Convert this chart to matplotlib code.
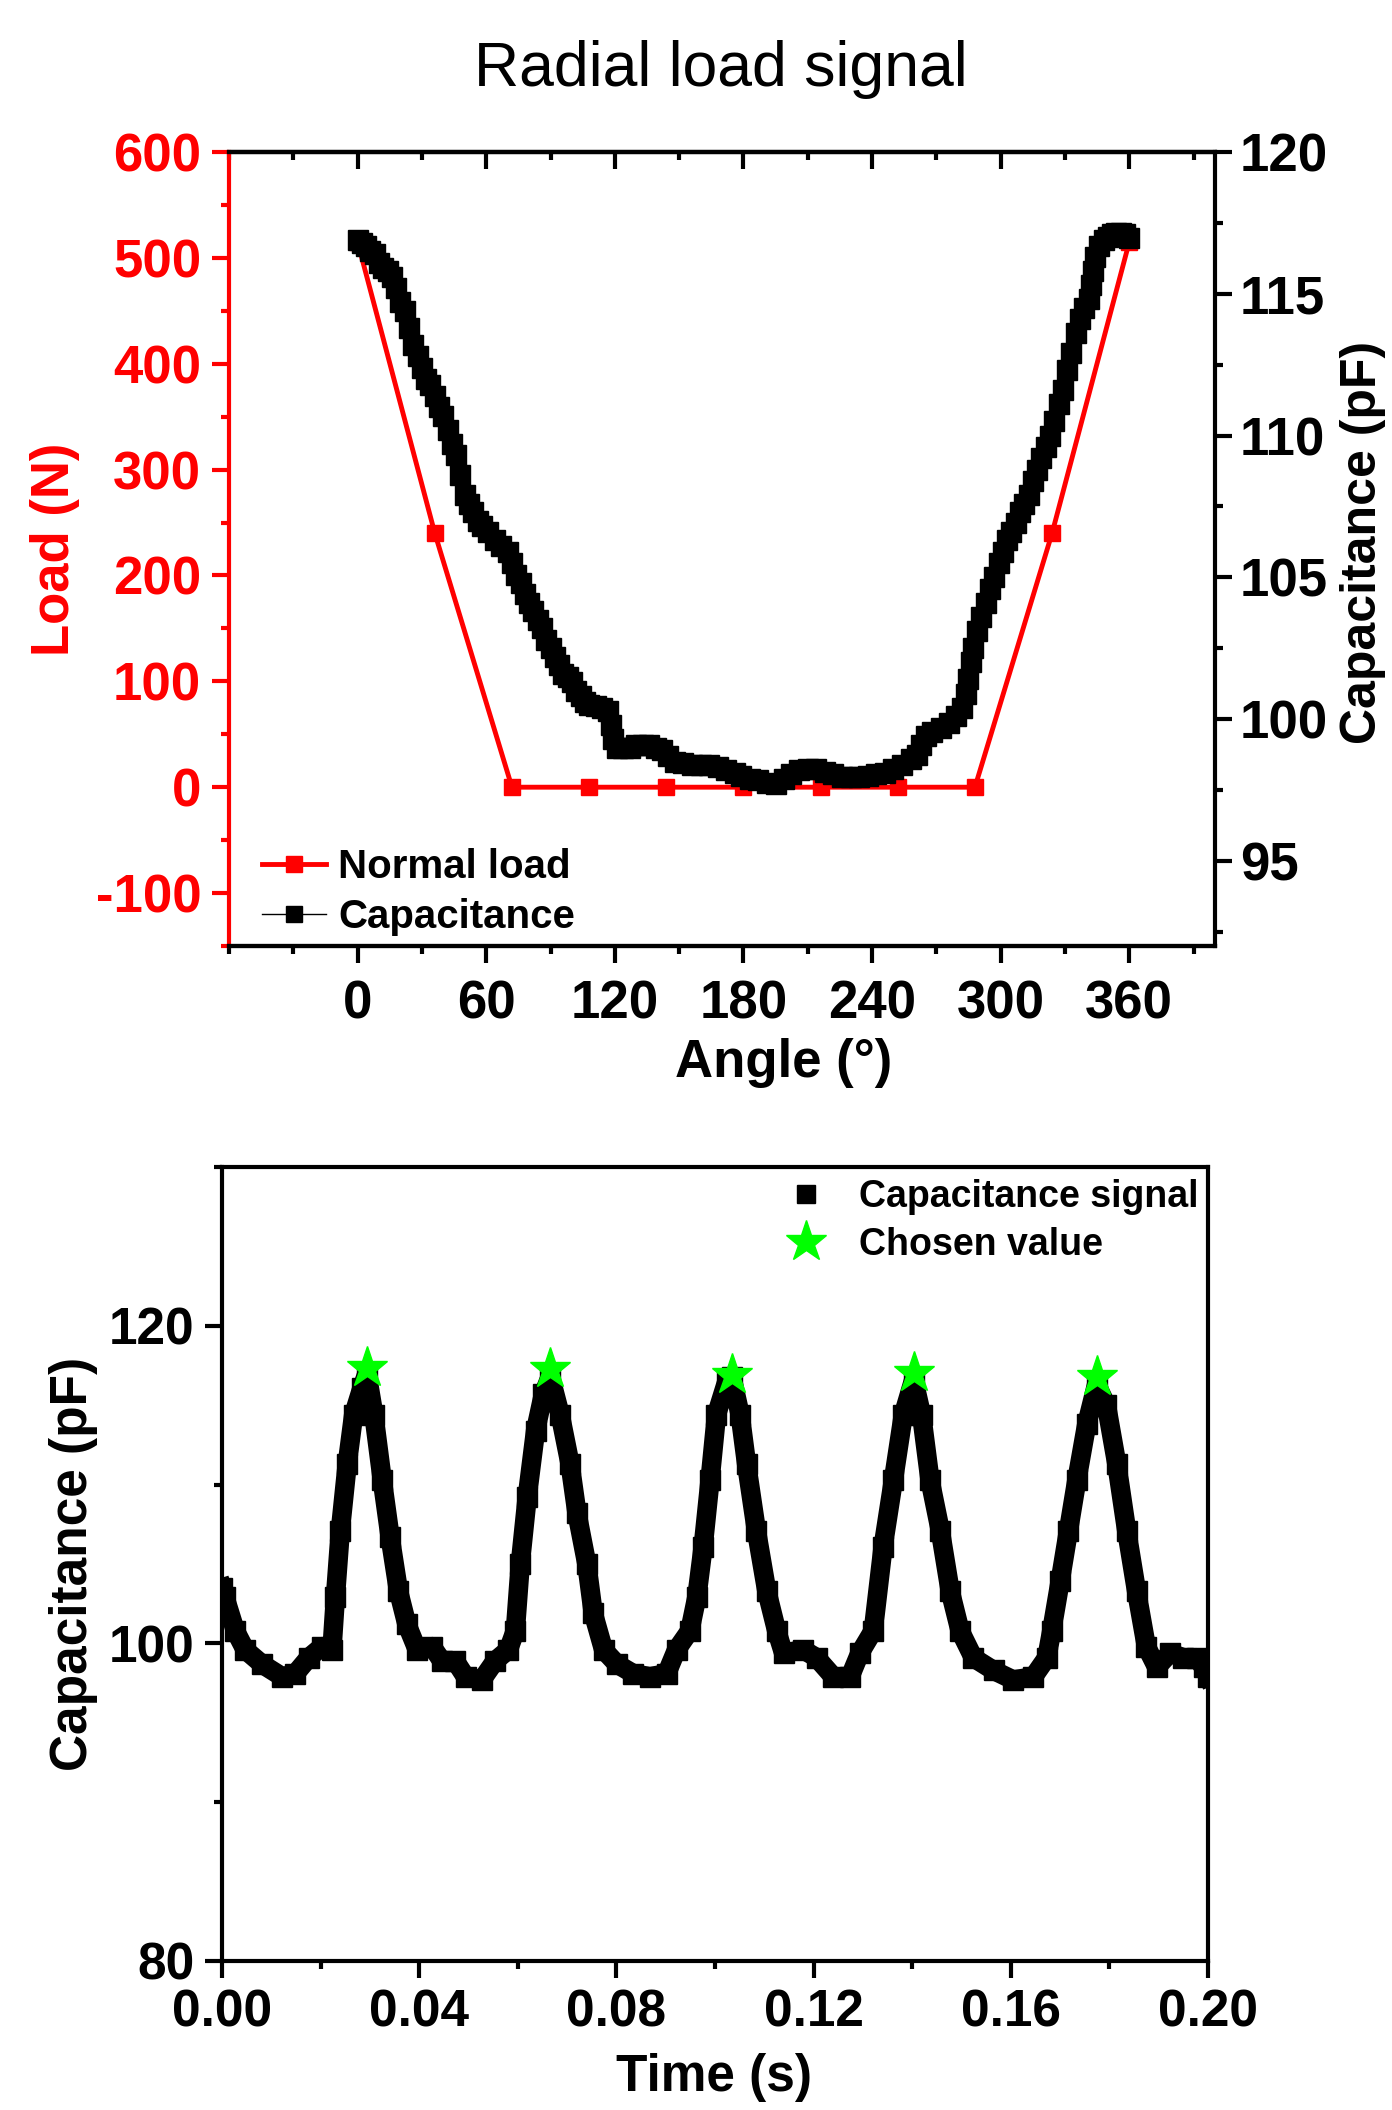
import matplotlib
matplotlib.use("Agg")
import matplotlib.pyplot as plt
from matplotlib.ticker import MultipleLocator

plt.rcParams['font.family'] = ['Liberation Sans', 'DejaVu Sans']
plt.rcParams['font.weight'] = 'bold'
plt.rcParams['axes.linewidth'] = 3
plt.rcParams['axes.unicode_minus'] = False

# top panel: load vs angle
load_angle = [0, 36, 72, 108, 144, 180, 216, 252, 288, 324, 360]
load_n = [515, 240, 0, 0, 0, 0, 0, 0, 0, 240, 515]

# top panel: capacitance vs angle
cap_angle = [0, 2, 4, 6, 8, 10, 12, 14, 16, 18, 20, 22, 24, 26, 28, 30, 32, 34, 36, 38,
             40, 42, 44, 46, 48, 50, 52, 54, 56, 58, 61, 64, 67, 70, 72, 74, 76, 78, 80, 82,
             84, 86, 88, 90, 92, 94, 96, 98, 100, 102, 104, 106, 108, 111, 114, 117, 118, 119, 121, 124,
             127, 130, 133, 136, 139, 142, 145, 148, 152, 156, 160, 164, 168, 172, 176, 179, 183, 187, 191, 195,
             199, 202, 206, 210, 214, 218, 222, 226, 230, 234, 238, 242, 246, 250, 254, 258, 261, 263, 265, 268,
             272, 276, 279, 282, 284, 285, 286, 287, 289, 291, 293, 295, 297, 299, 301, 303, 305, 307, 309, 311,
             313, 315, 317, 319, 321, 323, 325, 327, 329, 331, 333, 335, 337, 339, 341, 342, 343, 344, 346, 348,
             350, 352, 354, 356, 358, 360]
cap_pf = [116.9, 116.8, 116.7, 116.5, 116.4, 116.1, 115.9, 115.8, 115.6, 115.2, 114.7, 114.4, 113.8, 113.2, 112.8, 112.4, 112.0, 111.8, 111.4, 111.0,
          110.7, 110.2, 109.7, 109.3, 108.6, 107.9, 107.6, 107.3, 107.0, 106.8, 106.6, 106.3, 106.1, 105.9, 105.5, 105.1, 104.8, 104.4, 104.1, 103.8,
          103.5, 103.2, 102.8, 102.5, 102.2, 101.9, 101.6, 101.5, 101.3, 101.0, 100.8, 100.6, 100.5, 100.45, 100.4, 100.3, 99.8, 99.3, 99.0, 99.0,
          99.0, 99.1, 99.1, 99.1, 99.0, 98.9, 98.7, 98.5, 98.45, 98.4, 98.4, 98.4, 98.3, 98.2, 98.1, 98.0, 97.9, 97.85, 97.75, 97.7,
          97.9, 98.05, 98.2, 98.25, 98.25, 98.15, 98.05, 97.95, 97.95, 97.95, 98.0, 98.05, 98.1, 98.25, 98.4, 98.6, 98.75, 99.1, 99.4, 99.55,
          99.7, 99.85, 100.1, 100.4, 100.9, 101.4, 102.0, 102.5, 103.1, 103.6, 104.1, 104.6, 105.0, 105.5, 105.9, 106.3, 106.6, 106.9, 107.3, 107.6,
          107.9, 108.4, 108.8, 109.2, 109.6, 110.0, 110.5, 111.1, 111.6, 112.3, 112.9, 113.6, 114.1, 114.5, 114.8, 115.3, 115.8, 116.3, 116.7, 116.9,
          117.0, 117.1, 117.15, 117.15, 117.1, 116.95]

# bottom panel: capacitance signal vs time
sig_t = [0.0000, 0.0006, 0.0027, 0.0047, 0.0081, 0.0122, 0.0149, 0.0176, 0.0203, 0.0223,
         0.0230, 0.0240, 0.0254, 0.0267, 0.0284, 0.0294, 0.0308, 0.0325, 0.0341, 0.0358,
         0.0375, 0.0396, 0.0426, 0.0446, 0.0473, 0.0494, 0.0527, 0.0554, 0.0581, 0.0595,
         0.0605, 0.0619, 0.0636, 0.0652, 0.0666, 0.0686, 0.0706, 0.0720, 0.0740, 0.0753,
         0.0774, 0.0801, 0.0834, 0.0868, 0.0902, 0.0922, 0.0949, 0.0963, 0.0976, 0.0990,
         0.1003, 0.1024, 0.1034, 0.1051, 0.1064, 0.1084, 0.1105, 0.1125, 0.1139, 0.1179,
         0.1206, 0.1240, 0.1274, 0.1294, 0.1321, 0.1341, 0.1362, 0.1382, 0.1403, 0.1419,
         0.1436, 0.1457, 0.1477, 0.1497, 0.1524, 0.1565, 0.1605, 0.1646, 0.1673, 0.1683,
         0.1700, 0.1717, 0.1734, 0.1754, 0.1774, 0.1794, 0.1815, 0.1835, 0.1855, 0.1875,
         0.1896, 0.1923, 0.1950, 0.1977, 0.1991, 0.2000]
sig_pf = [103.5, 102.9, 100.8, 99.6, 98.7, 97.9, 98.1, 99.1, 99.8, 99.6,
          102.9, 107.1, 111.3, 114.4, 116.1, 117.0, 114.4, 110.3, 106.7, 103.3,
          101.2, 99.6, 99.8, 98.9, 98.9, 97.9, 97.7, 98.9, 99.6, 100.8,
          105.0, 109.2, 113.4, 115.7, 116.8, 114.4, 111.3, 108.2, 105.0, 101.9,
          99.6, 98.7, 98.1, 97.9, 98.1, 99.6, 100.8, 102.9, 106.1, 110.3,
          114.4, 116.5, 116.8, 114.4, 111.3, 107.1, 103.3, 100.8, 99.4, 99.6,
          99.1, 97.9, 97.9, 99.4, 100.8, 106.1, 110.3, 114.4, 116.6, 114.4,
          110.3, 107.1, 103.3, 100.8, 99.1, 98.3, 97.7, 97.9, 99.1, 100.8,
          103.9, 107.1, 110.3, 113.8, 116.3, 115.0, 111.3, 107.1, 103.3, 99.8,
          98.5, 99.4, 99.1, 99.1, 98.5, 97.9]

chosen_t = [0.0294, 0.0666, 0.1034, 0.1403, 0.1774]
chosen_pf = [117.35, 117.3, 116.9, 117.05, 116.75]

W, H = 1392, 2110
fig = plt.figure(figsize=(W / 100, H / 100), dpi=100)

# ---------- top panel ----------
ax = fig.add_axes([229 / W, 1 - 946 / H, 986 / W, 794 / H])
ax2 = ax.twinx()

ax.plot(load_angle, load_n, '-s', color='red', lw=3.5, ms=11, label='Normal load')
ax2.plot(cap_angle, cap_pf, '-s', color='black', lw=1.0, ms=15, label='Capacitance')

ax.set_xlim(-60, 400)
ax.set_ylim(-150, 600)
ax2.set_ylim(92, 120)
ax.set_xticks(range(0, 361, 60))
ax.xaxis.set_minor_locator(MultipleLocator(30))
ax.yaxis.set_major_locator(MultipleLocator(100))
ax.yaxis.set_minor_locator(MultipleLocator(50))
ax2.set_yticks([95, 100, 105, 110, 115, 120])
ax2.yaxis.set_minor_locator(MultipleLocator(2.5))

ax.tick_params(axis='x', which='major', direction='out', length=12, width=3, labelsize=38, pad=12)
ax.tick_params(axis='x', which='minor', direction='out', length=6, width=3)
ax.tick_params(axis='y', which='both', colors='red', width=3, labelsize=38, pad=8)
ax.tick_params(axis='y', which='major', length=12)
ax.tick_params(axis='y', which='minor', length=6)
ax2.tick_params(axis='y', which='major', direction='out', length=12, width=3, labelsize=38, pad=6)
ax2.tick_params(axis='y', which='minor', direction='out', length=6, width=3)

top = ax.secondary_xaxis('top')
top.set_xticks(range(0, 361, 60))
top.xaxis.set_minor_locator(MultipleLocator(30))
top.tick_params(axis='x', which='major', direction='in', length=12, width=3, labeltop=False)
top.tick_params(axis='x', which='minor', direction='in', length=6, width=3)
top.spines['top'].set_linewidth(3)

ax.spines['left'].set_color('red')
ax2.spines['left'].set_visible(False)
ax.spines['right'].set_visible(False)

h1, l1 = ax.get_legend_handles_labels()
h2, l2 = ax2.get_legend_handles_labels()
leg = ax2.legend(h1 + h2, l1 + l2, loc='lower left', bbox_to_anchor=(0.033, 0.012),
                 frameon=False, fontsize=29, handlelength=1.6, handletextpad=0.3,
                 labelspacing=0.3, borderpad=0, borderaxespad=0)
leg.legend_handles[1].set_markersize(12)

fig.text(0.518, 0.967, 'Radial load signal', ha='center', va='center',
         fontsize=45, fontweight='normal')
fig.text(55 / W, 1 - 549 / H, 'Load (N)', rotation=90, ha='center', va='center',
         fontsize=38, color='red')
fig.text(1363 / W, 1 - 542 / H, 'Capacitance (pF)', rotation=90, ha='center', va='center',
         fontsize=36)
fig.text(784 / W, 1 - 1063 / H, 'Angle (°)', ha='center', va='center', fontsize=38)

# ---------- bottom panel ----------
bx = fig.add_axes([222 / W, 1 - 1961 / H, 986 / W, 794 / H])
bx.plot(sig_t, sig_pf, '-', color='black', lw=14, solid_joinstyle='round')
bx.plot(sig_t, sig_pf, 's', color='black', ms=15, label='Capacitance signal')
bx.plot(chosen_t, chosen_pf, '*', color='#00ff00', ms=31, label='Chosen value')

bx.set_xlim(0, 0.2)
bx.set_ylim(80, 130)
bx.set_xticks([0.0, 0.04, 0.08, 0.12, 0.16, 0.20])
bx.set_xticklabels(['0.00', '0.04', '0.08', '0.12', '0.16', '0.20'])
bx.xaxis.set_minor_locator(MultipleLocator(0.02))
bx.set_yticks([80, 100, 120])
bx.yaxis.set_minor_locator(MultipleLocator(10))
bx.tick_params(which='major', direction='out', length=12, width=3, labelsize=37, pad=8)
bx.tick_params(which='minor', direction='out', length=6, width=3)

bleg = bx.legend(loc='upper right', bbox_to_anchor=(0.99, 0.985), frameon=False, fontsize=27,
                 handlelength=1.0, handletextpad=0.9, labelspacing=0.32, borderpad=0,
                 borderaxespad=0)
bleg.legend_handles[0].set_markersize(13)

fig.text(74 / W, 1 - 1564 / H, 'Capacitance (pF)', rotation=90, ha='center', va='center',
         fontsize=37)
fig.text(714 / W, 1 - 2078 / H, 'Time (s)', ha='center', va='center', fontsize=37)

fig.savefig('out.png', dpi=100)
